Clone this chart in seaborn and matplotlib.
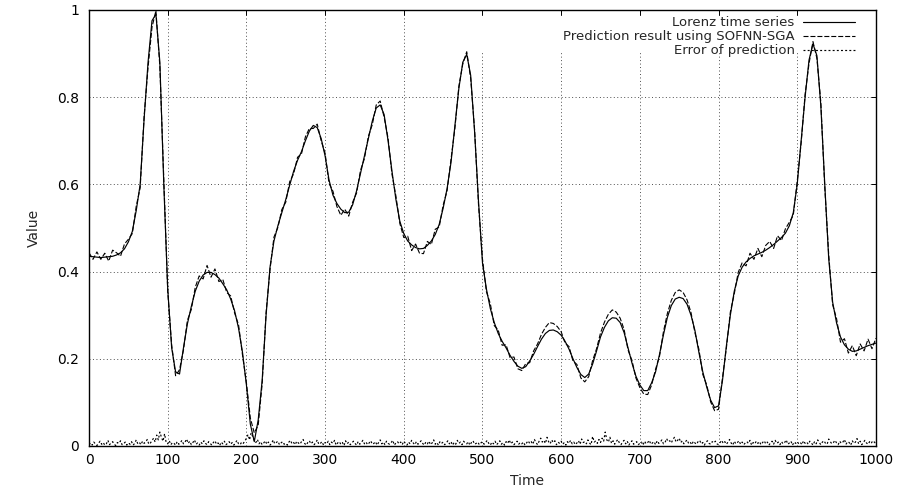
import numpy as np
import pandas as pd
import matplotlib.pyplot as plt
from matplotlib.patches import Rectangle
from matplotlib.ticker import FuncFormatter
import seaborn as sns

# Lorenz series, sampled every 5 time steps (0..1000)
time_main = np.arange(0, 1001, 5)
lorenz = [
    0.435, 0.434, 0.433, 0.432, 0.433, 0.434, 0.435, 0.438, 0.443, 0.452,
    0.468, 0.492, 0.540, 0.600, 0.750, 0.880, 0.975, 0.990, 0.880, 0.600,
    0.360, 0.225, 0.170, 0.165, 0.225, 0.280, 0.320, 0.355, 0.378, 0.392,
    0.398, 0.398, 0.393, 0.385, 0.372, 0.358, 0.337, 0.310, 0.270, 0.215,
    0.140, 0.050, 0.010, 0.060, 0.150, 0.300, 0.410, 0.470, 0.505, 0.535,
    0.565, 0.598, 0.630, 0.655, 0.675, 0.700, 0.722, 0.735, 0.730, 0.705,
    0.665, 0.610, 0.575, 0.556, 0.543, 0.535, 0.536, 0.553, 0.585, 0.625,
    0.665, 0.705, 0.745, 0.775, 0.782, 0.760, 0.700, 0.630, 0.565, 0.515,
    0.487, 0.470, 0.461, 0.455, 0.452, 0.453, 0.460, 0.470, 0.485, 0.508,
    0.545, 0.590, 0.650, 0.735, 0.820, 0.880, 0.898, 0.850, 0.720, 0.560,
    0.420, 0.360, 0.315, 0.283, 0.258, 0.240, 0.225, 0.208, 0.194, 0.183,
    0.178, 0.182, 0.195, 0.210, 0.228, 0.245, 0.258, 0.265, 0.266, 0.262,
    0.254, 0.240, 0.222, 0.200, 0.180, 0.164, 0.157, 0.165, 0.188, 0.218,
    0.250, 0.272, 0.287, 0.294, 0.293, 0.283, 0.260, 0.225, 0.190, 0.160,
    0.140, 0.127, 0.127, 0.145, 0.170, 0.210, 0.255, 0.295, 0.322, 0.337,
    0.341, 0.338, 0.325, 0.300, 0.265, 0.215, 0.170, 0.135, 0.105, 0.088,
    0.092, 0.150, 0.230, 0.300, 0.355, 0.390, 0.410, 0.422, 0.430, 0.436,
    0.440, 0.444, 0.449, 0.455, 0.462, 0.470, 0.478, 0.488, 0.505, 0.535,
    0.600, 0.700, 0.800, 0.885, 0.922, 0.895, 0.780, 0.600, 0.430, 0.330,
    0.282, 0.250, 0.232, 0.222, 0.217, 0.218, 0.222, 0.226, 0.230, 0.233,
    0.236,
]

# prediction minus actual, in thousandths, same sampling
pred_offset_milli = [
    8, -6, 12, -4, 9, -10, 14, 5, -8, 11, 6,
    -5, 10, -8, 6, -12,
    -15, 8, -10, 12, -6,
    7, -9, 10, -5, 8, -7, 9,
    12, -9, 16, -11, 13, -8, 10, -6,
    7, -5, 8, -6, 5,
    14, 20, -12,
    -8, 6, -5, 9, -4, 7, -6,
    8, -6, 7, -5, 9, 6, -7, 8, -5,
    6, -8, 9, -7, -14, 8, -9, 6,
    -5, 7, -6, 5, -8, 7, 9, -6,
    6, -7, 8, -5,
    -9, 11, -13, 8, -10, -12, 9, -8, 12, -6,
    7, -5, 8, -6, 5, -4, 6, -7, 5, -8,
    9, -6, 11, -7, 8, -9, 7, -5, 10, -6,
    -5, 7, -4, 8, 6, 11, 14, 18, 15, 12,
    8, -4, 6, -5, 7, -8, -10, -6, 8, 5,
    9, 12, 15, 18, 14, 10, 7, -5, 6, -4,
    -6, -8, -9, -5, 6, -4, 7, 9, 12, 15,
    17, 14, 10, 6, -5, 7, -6, 5, -4, -7,
    -8, 6, -5, 7, -6, 8, 10, -9, 12, -8,
    13, -10, 11, 14, -9, 12, -7, 10, 8, -6,
    7, -5, 6, -8, 5, -6, 8, -7, 9, -6,
    10, -12, 14, -9, 13, -11, 12, -8, 15, -10, 11,
]

# prediction error, sampled every 2 time steps, in thousandths
time_err = np.arange(0, 1001, 2)
error_milli = [
    3, 7, 2, 9, 5, 1, 6, 11, 4, 8, 2, 5, 13, 3, 7, 10, 4, 1, 8, 6, 12, 3, 5, 9, 2,
    7, 4, 10, 2, 6, 14, 5, 8, 3, 11, 6, 9, 15, 4, 7, 12, 18, 9, 25, 14, 32, 20, 11, 28, 8,
    5, 12, 3, 8, 6, 2, 10, 4, 7, 13, 5, 9, 16, 6, 11, 3, 8, 14, 4, 7, 2, 9, 5, 12, 6,
    3, 10, 6, 2, 8, 12, 4, 7, 1, 9, 5, 11, 3, 6, 10, 4, 8, 2, 7, 13, 5, 3, 9, 6, 11,
    18, 26, 14, 30, 22, 12, 8, 15, 5, 10, 3, 7, 12, 4, 9, 2, 6, 14, 5, 8, 11, 3, 7, 10, 4,
    6, 2, 9, 13, 5, 8, 3, 11, 7, 4, 10, 15, 6, 2, 8, 12, 5, 9, 3, 7, 14, 4, 6, 10, 2,
    8, 5, 11, 3, 9, 6, 13, 2, 7, 10, 4, 8, 1, 12, 5, 9, 3, 7, 11, 6, 2, 10, 4, 8, 13,
    5, 9, 3, 7, 12, 4, 6, 10, 2, 8, 14, 5, 9, 3, 11, 6, 4, 8, 13, 2, 7, 10, 5, 9, 3,
    11, 6, 2, 9, 5, 13, 7, 3, 10, 4, 8, 12, 6, 2, 9, 5, 11, 3, 7, 14, 4, 8, 2, 10, 6,
    9, 3, 7, 12, 5, 10, 2, 8, 4, 13, 6, 9, 3, 11, 7, 5, 10, 2, 8, 12, 4, 6, 9, 3, 7,
    10, 4, 8, 13, 6, 2, 9, 5, 11, 3, 7, 12, 4, 8, 2, 10, 6, 14, 5, 9, 3, 7, 11, 4, 8,
    5, 9, 2, 7, 12, 6, 10, 4, 15, 8, 3, 11, 18, 9, 13, 6, 20, 10, 5, 14, 8, 12, 3, 9, 6,
    11, 4, 8, 2, 10, 6, 13, 5, 9, 3, 7, 12, 4, 16, 8, 10, 5, 14, 7, 3, 22, 9, 12, 6, 15,
    8, 18, 11, 32, 14, 9, 20, 6, 12, 4, 10, 15, 7, 3, 9, 13, 5, 11, 2, 8, 12, 4, 7, 10, 3,
    6, 9, 2, 11, 5, 8, 13, 4, 7, 10, 3, 12, 6, 9, 14, 5, 8, 17, 10, 12, 7, 15, 20, 9, 13,
    18, 8, 12, 5, 10, 14, 6, 9, 3, 11, 7, 4, 10, 13, 5, 8, 2, 9, 12, 6, 4, 10, 7, 11, 5,
    3, 8, 13, 6, 10, 4, 9, 15, 7, 2, 11, 5, 8, 12, 4, 9, 3, 7, 10, 6, 13, 2, 8, 5, 11,
    6, 10, 3, 8, 12, 5, 9, 2, 7, 11, 4, 13, 6, 9, 3, 10, 5, 8, 14, 4, 7, 11, 2, 9, 6,
    10, 5, 8, 3, 12, 6, 9, 4, 11, 7, 2, 10, 5, 14, 8, 3, 9, 12, 6, 4, 16, 10, 5, 8, 13,
    7, 3, 11, 6, 9, 15, 4, 10, 8, 2, 12, 6, 9, 17, 5, 11, 3, 8, 13, 7, 4, 10, 6, 12, 9,
    5,
]

x_ticks = np.arange(0, 1001, 100)
y_ticks = [0, 0.2, 0.4, 0.6, 0.8, 1.0]

sns.set_style("white")
plt.rcParams["font.family"] = ["DejaVu Sans"]
plt.rcParams["lines.scale_dashes"] = False

df_main = pd.DataFrame({
    "Time": time_main,
    "Lorenz": lorenz,
    "Prediction": np.array(lorenz) + np.array(pred_offset_milli) / 1000.0,
})
df_err = pd.DataFrame({"Time": time_err, "Error": np.array(error_milli) / 1000.0})

fig, ax = plt.subplots(figsize=(9.03, 4.92), dpi=100)
fig.subplots_adjust(left=0.0986, right=0.970, top=0.980, bottom=0.0935)

sns.lineplot(data=df_main, x="Time", y="Lorenz", ax=ax, color="black",
             linewidth=0.85, estimator=None, label="Lorenz time series", zorder=3)
sns.lineplot(data=df_main, x="Time", y="Prediction", ax=ax, color="black",
             linewidth=0.8, linestyle=(0, (3.6, 1.4)), estimator=None,
             label="Prediction result using SOFNN-SGA", zorder=3)
sns.lineplot(data=df_err, x="Time", y="Error", ax=ax, color="black",
             linewidth=0.85, linestyle=(0, (1.4, 1.6)), estimator=None,
             label="Error of prediction", zorder=3)

ax.set_xlim(0, 1000)
ax.set_ylim(0, 1)
ax.set_xticks(x_ticks)
ax.set_yticks(y_ticks)
ax.yaxis.set_major_formatter(FuncFormatter(lambda v, _: f"{v:g}"))

ax.grid(True, color="#333333", linewidth=0.6, linestyle=(0, (0.7, 1.8)))
ax.set_axisbelow(True)
# key area hides the grid behind it
ax.add_patch(Rectangle((488, 0.905), 507, 0.08, facecolor="white",
                       edgecolor="none", zorder=1))

ax.tick_params(direction="in", length=3.6, width=0.7, top=True, right=True,
               labelsize=10, colors="black")
ax.tick_params(axis="x", pad=5)
ax.tick_params(axis="y", pad=7)
for s in ax.spines.values():
    s.set_linewidth(1.0)
    s.set_color("black")

ax.set_xlabel("Time", fontsize=10, labelpad=3)
ax.xaxis.set_label_coords(0.557, -0.065)
ax.set_ylabel("Value", fontsize=10, labelpad=12)

leg = ax.legend(loc="upper right", bbox_to_anchor=(0.973, 0.985), markerfirst=False,
                frameon=False, fontsize=9.5, handlelength=3.9, handletextpad=0.65,
                labelspacing=0.08, borderaxespad=0, borderpad=0)

fig.savefig("out.png", dpi=100)
